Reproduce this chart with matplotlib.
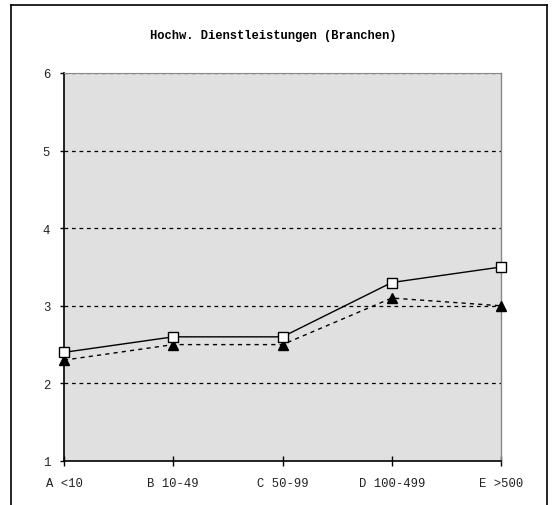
import matplotlib
matplotlib.use("Agg")
import matplotlib.pyplot as plt
from matplotlib.lines import Line2D

categories = ["A <10", "B 10-49", "C 50-99", "D 100-499", "E >500"]
series_squares = [2.4, 2.6, 2.6, 3.3, 3.5]
series_triangles = [2.3, 2.5, 2.5, 3.1, 3.0]
yticks = [1, 2, 3, 4, 5, 6]
title = "Hochw. Dienstleistungen (Branchen)"

W, H = 555, 506
fig = plt.figure(figsize=(W/100, H/100), dpi=100)
plt.rcParams['font.family'] = ['Liberation Mono', 'DejaVu Sans Mono']

ax = fig.add_axes([64/W, 1-462/H, (501-64)/W, (462-74)/H])
ax.set_facecolor('#e0e0e0')
x = list(range(len(categories)))
ax.set_xlim(0, len(categories)-1)
ax.set_ylim(1, 6)

for y in yticks[1:]:
    ax.axhline(y, color='black', lw=0.9, ls=(0, (3, 3)), zorder=1)

ax.plot(x, series_squares, color='black', lw=1.0, marker='s', markersize=6.5,
        markerfacecolor='white', markeredgecolor='black', markeredgewidth=1.0, zorder=4, clip_on=False)
ax.plot(x, series_triangles, color='black', lw=1.0, ls=(0, (3, 3)), marker='^', markersize=7.5,
        markerfacecolor='black', markeredgecolor='black', zorder=3, clip_on=False)

ax.set_xticks(x)
ax.set_xticklabels(categories, fontsize=8.8, color='#222222')
ax.set_yticks(yticks)
ax.set_yticklabels([str(v) for v in yticks], fontsize=8.8, color='#222222')
ax.tick_params(axis='x', direction='inout', length=6.5, width=1, pad=8)
ax.tick_params(axis='y', direction='out', length=3, width=1, pad=7)

for s in ['left', 'bottom']:
    ax.spines[s].set_color('black')
    ax.spines[s].set_linewidth(1.2)
ax.spines['right'].set_color('#888888')
ax.spines['top'].set_color('#888888')
ax.spines['right'].set_linewidth(1.0)
ax.spines['top'].set_linewidth(0.8)

fig.text(273/W, 1-36/H, title, ha='center', va='center', fontsize=8.7, fontweight='bold')

# outer frame
fx0, fx1, fy0 = 10.5/W, 546.5/W, 1-5.5/H
fig.add_artist(Line2D([fx0, fx0], [0, fy0], color='black', lw=1.2, transform=fig.transFigure))
fig.add_artist(Line2D([fx1, fx1], [0, fy0], color='black', lw=1.2, transform=fig.transFigure))
fig.add_artist(Line2D([fx0, fx1], [fy0, fy0], color='black', lw=1.2, transform=fig.transFigure))

fig.savefig("out.png", dpi=100)
